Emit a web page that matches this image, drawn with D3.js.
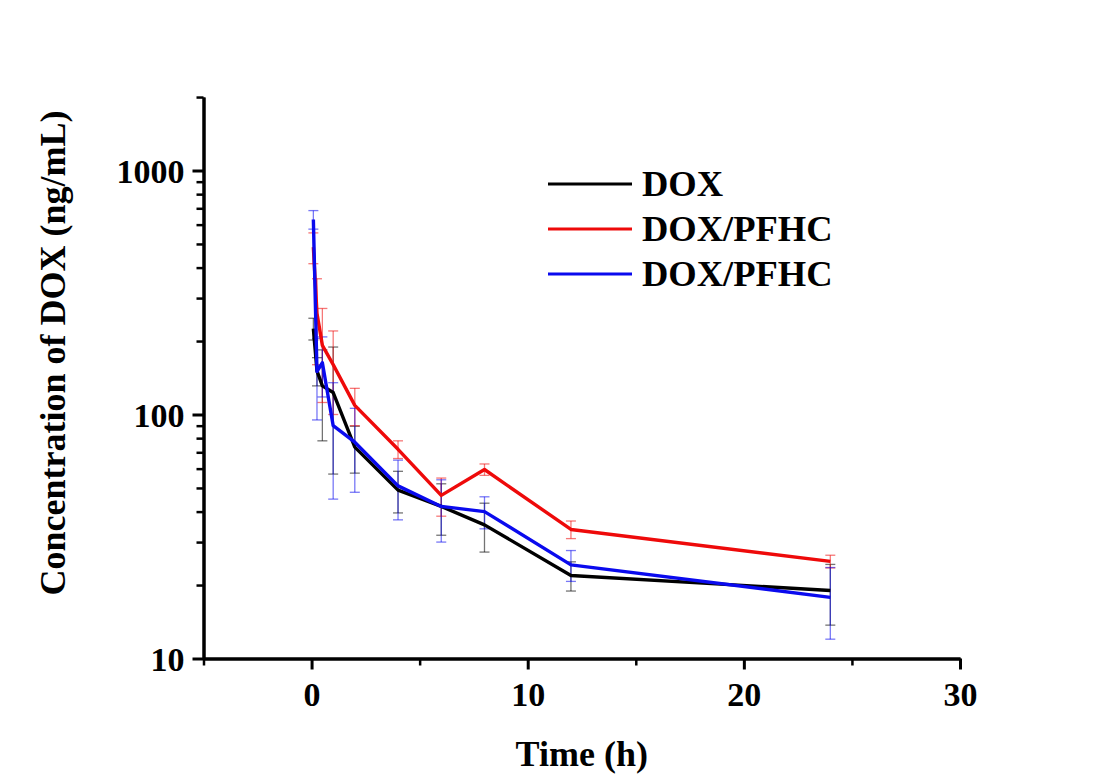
<!DOCTYPE html>
<html>
<head>
<meta charset="utf-8">
<script src="https://cdn.jsdelivr.net/npm/d3@7"></script>
<style>
  html, body { margin: 0; padding: 0; background: #fff; }
  svg text { font-family: "Liberation Serif", "Times New Roman", serif; font-weight: bold; fill: #000; }
</style>
</head>
<body>
<svg id="chart" width="1100" height="780"></svg>
<script>
// ---- data ----
const times = [0.083, 0.25, 0.5, 1, 2, 4, 6, 8, 12, 24];
const doxMean = [225, 151, 131, 123, 73.5, 49, 42, 35.3, 21.9, 19];
const doxSD = [23, 20, 53, 66, 16, 9.5, 10, 8, 3, 5.3];
const pfhcMean = [485, 260, 192, 160, 109, 72, 46.6, 59.5, 33.8, 25];
const pfhcSD = [70, 100, 80, 60, 19, 6, 8.3, 3.2, 2.8, 1.5];
const pfhc2Mean = [630, 150, 163, 90, 77, 51, 42, 40, 24.2, 17.8];
const pfhc2SD = [55, 55, 45, 45, 29, 14, 12, 6, 3.5, 5.8];
const seriesNames = ["DOX", "DOX/PFHC", "DOX/PFHC"];
const seriesColors = ["#000000", "#ee0a0a", "#0a0aee"];
const xMajorTicks = [0, 10, 20, 30];
const xMinorTicks = [-5, 5, 15, 25];
const yMajorTicks = [10, 100, 1000];
const yMinorTicks = [20, 30, 40, 50, 60, 70, 80, 90, 200, 300, 400, 500, 600, 700, 800, 900, 2000];
const xTitle = "Time (h)";
const yTitle = "Concentration of DOX (ng/mL)";

const series = [
  { name: seriesNames[0], color: seriesColors[0], mean: doxMean, sd: doxSD },
  { name: seriesNames[1], color: seriesColors[1], mean: pfhcMean, sd: pfhcSD },
  { name: seriesNames[2], color: seriesColors[2], mean: pfhc2Mean, sd: pfhc2SD }
];

const svg = d3.select("#chart");
const left = 203.5, right = 960, bottom = 658.5;
const x = d3.scaleLinear().domain([-5, 30]).range([left, right]);
const y = d3.scaleLog().domain([10, 2000]).range([bottom, bottom - 244 * Math.log10(200)]);

// error bars
const capW = 5;
series.forEach(s => {
  const g = svg.append("g").attr("stroke", s.color).attr("stroke-opacity", 0.55).attr("stroke-width", 1.3).attr("fill", "none");
  times.forEach((t, i) => {
    const hi = s.mean[i] + s.sd[i];
    const lo = Math.max(s.mean[i] - s.sd[i], 10.01);
    const cx = x(t);
    g.append("line").attr("x1", cx).attr("x2", cx).attr("y1", y(hi)).attr("y2", y(lo));
    g.append("line").attr("x1", cx - capW).attr("x2", cx + capW).attr("y1", y(hi)).attr("y2", y(hi));
    g.append("line").attr("x1", cx - capW).attr("x2", cx + capW).attr("y1", y(lo)).attr("y2", y(lo));
  });
});

// lines
const line = d3.line().x((d, i) => x(times[i])).y(d => y(d));
series.forEach(s => {
  svg.append("path").datum(s.mean).attr("d", line)
    .attr("fill", "none").attr("stroke", s.color).attr("stroke-width", 3.4)
    .attr("stroke-linejoin", "round");
});

// axes
function styleAxis(g, width) {
  g.select(".domain").attr("stroke", "#000").attr("stroke-width", 3);
  g.selectAll(".tick line").attr("stroke", "#000").attr("stroke-width", width);
}
const xMinor = svg.append("g").attr("transform", `translate(0,${bottom})`)
  .call(d3.axisBottom(x).tickValues(xMinorTicks).tickSize(7).tickSizeOuter(0).tickFormat(""));
styleAxis(xMinor, 2.5);
const xMajor = svg.append("g").attr("transform", `translate(0,${bottom})`)
  .call(d3.axisBottom(x).tickValues(xMajorTicks).tickSize(11).tickSizeOuter(0).tickPadding(0).tickFormat(d3.format("d")));
styleAxis(xMajor, 3);
xMajor.selectAll(".tick text").attr("font-size", 34).attr("y", 47).attr("dy", 0)
  .style("font-family", "'Liberation Serif','Times New Roman',serif").style("font-weight", "bold");

const yMinor = svg.append("g").attr("transform", `translate(${left},0)`)
  .call(d3.axisLeft(y).tickValues(yMinorTicks).tickSize(7).tickSizeOuter(0).tickFormat(""));
styleAxis(yMinor, 2.5);
const yMajor = svg.append("g").attr("transform", `translate(${left},0)`)
  .call(d3.axisLeft(y).tickValues(yMajorTicks).tickSize(11).tickSizeOuter(0).tickPadding(8).tickFormat(d3.format("d")));
styleAxis(yMajor, 3);
yMajor.selectAll(".tick text").attr("font-size", 34).attr("dy", "0.34em")
  .style("font-family", "'Liberation Serif','Times New Roman',serif").style("font-weight", "bold");

// titles
svg.append("text").attr("x", (left + right) / 2).attr("y", 766).attr("text-anchor", "middle")
  .attr("font-size", 36).text(xTitle);
svg.append("text").attr("transform", "translate(65,353) rotate(-90)").attr("text-anchor", "middle")
  .attr("font-size", 36).text(yTitle);

// legend
const legY = [184, 229, 274];
series.forEach((s, i) => {
  svg.append("line").attr("x1", 548).attr("x2", 632).attr("y1", legY[i]).attr("y2", legY[i])
    .attr("stroke", s.color).attr("stroke-width", 3);
  svg.append("text").attr("x", 642).attr("y", legY[i] + 12).attr("font-size", 36.5).text(s.name);
});
</script>
</body>
</html>
